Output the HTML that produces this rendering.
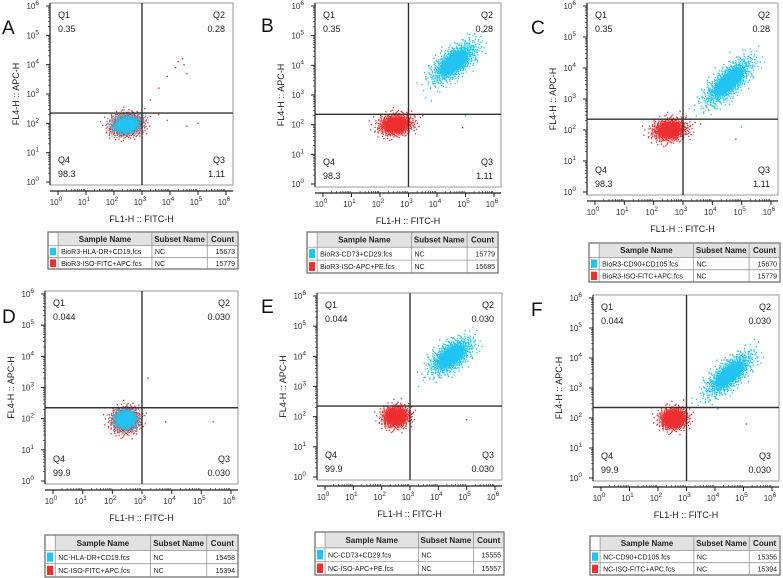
<!DOCTYPE html>
<html><head><meta charset="utf-8">
<style>
html,body{margin:0;padding:0;background:#fff;}
svg{display:block;font-family:"Liberation Sans",Arial,sans-serif;}
</style></head>
<body>
<svg id="fig" width="783" height="578" viewBox="0 0 783 578" xmlns="http://www.w3.org/2000/svg"></svg>
<script>
// ---------- data ----------
const panelLetters = ["A","B","C","D","E","F"];
const q1Values = ["0.35","0.35","0.35","0.044","0.044","0.044"];
const q2Values = ["0.28","0.28","0.28","0.030","0.030","0.030"];
const q3Values = ["1.11","1.11","1.11","0.030","0.030","0.030"];
const q4Values = ["98.3","98.3","98.3","99.9","99.9","99.9"];
const sampleCyan = ["BioR3-HLA-DR+CD19.fcs","BioR3-CD73+CD29.fcs","BioR3-CD90+CD105.fcs","NC-HLA-DR+CD19.fcs","NC-CD73+CD29.fcs","NC-CD90+CD105.fcs"];
const sampleRed = ["BioR3-ISO-FITC+APC.fcs","BioR3-ISO-APC+PE.fcs","BioR3-ISO-FITC+APC.fcs","NC-ISO-FITC+APC.fcs","NC-ISO-APC+PE.fcs","NC-ISO-FITC+APC.fcs"];
const countCyan = ["15673","15779","15670","15458","15555","15356"];
const countRed = ["15779","15685","15779","15394","15557","15394"];
const tickDecades = [0,1,2,3,4,5,6];
// gates in log10 units
const gateX = [3.0,3.0,3.0,3.0,3.0,3.0];
const gateY = [2.35,2.35,2.35,2.35,2.35,2.35];
// clusters (log10 units): center x, center y, sd major, sd minor, angle(deg)
const redCenterX = [2.45,2.55,2.55,2.45,2.5,2.55];
const redCenterY = [1.95,2.0,2.0,1.95,2.0,1.98];
const redSdA = [0.3,0.3,0.3,0.24,0.24,0.24];
const redSdB = [0.19,0.18,0.18,0.2,0.18,0.18];
const redAngle = [8,6,6,5,5,5];
const cyanCenterX = [2.45,4.6,4.55,2.45,4.45,4.5];
const cyanCenterY = [1.95,4.1,3.55,1.97,4.0,3.45];
const cyanSdA = [0.26,0.48,0.52,0.2,0.42,0.5];
const cyanSdB = [0.16,0.21,0.2,0.16,0.21,0.2];
const cyanAngle = [8,38,42,5,35,40];
// sparse outlier events [x,y] in log10
const redOutliers = [
  [[3.3,2.8],[3.6,3.2],[3.9,3.6],[4.3,4.1],[4.5,4.0],[4.6,3.7],[4.2,3.9],[4.45,4.2],[3.1,2.5],[4.6,1.9],[5.0,2.0],[3.6,2.3],[3.9,2.1]],
  [[3.2,2.3],[3.5,2.3],[4.9,1.9],[3.0,2.5]],
  [[3.1,2.4],[3.6,2.2],[4.8,1.7],[2.9,2.6]],
  [[3.2,3.3],[3.8,1.9],[5.4,1.9],[2.7,2.5]],
  [[3.1,2.1],[5.0,1.9],[2.7,2.6]],
  [[2.9,2.6],[5.1,1.8]]
];
const cyanOutliers = [
  [[3.1,2.2],[2.9,2.3]],
  [[3.6,2.9],[3.8,2.8],[5.0,2.3],[5.3,4.6],[4.1,3.1]],
  [[3.4,2.8],[3.7,2.7],[5.0,2.1],[4.6,4.5]],
  [[3.1,2.1]],
  [[3.3,3.0],[3.5,3.3],[5.1,4.6]],
  [[3.2,2.5],[3.6,2.8],[4.1,2.3],[5.2,4.2]]
];

// ---------- layout (pixels) ----------
const boxes = [[50,3,233,185],[315,3,501,187],[587,3,778,195],[45,291,238,484],[317,293,502,480],[593,295,779,481]];
const tables = [[48,232,238,269],[307,232,498,273],[589,243,780,282],[45,535,238,577],[315,532,504,575],[590,536,780,575]];
const letterPos = [[2,34],[261,32],[531,34],[2,323],[261,313],[531,316]];
const CYAN="#22c4f2", RED="#ee2f2f";

const NS="http://www.w3.org/2000/svg";
const svg=document.getElementById('fig');
function mk(tag,attrs,parent){const e=document.createElementNS(NS,tag);for(const k in attrs)e.setAttribute(k,attrs[k]);(parent||svg).appendChild(e);return e;}
function halton(i,b){let f=1,r=0;while(i>0){f/=b;r+=f*(i%b);i=Math.floor(i/b);}return r;}

function drawCluster(g,xs,ys,cx,cy,sa,sb,ang,color,n,offset){
  const a=ang*Math.PI/180, ca=Math.cos(a), sn=Math.sin(a);
  const core=mk('ellipse',{cx:xs(cx),cy:ys(cy),rx:(xs(cx+sa*1.2)-xs(cx)),ry:(ys(cy)-ys(cy+sb*1.2)),fill:color,transform:`rotate(${-ang} ${xs(cx)} ${ys(cy)})`},g);
  
  
  for(let i=1;i<=n;i++){
    const u1=Math.max(1e-4,halton(i+offset,2)), u2=halton(i+offset,3);
    let r=Math.sqrt(-2*Math.log(u1)); if(r>3.3) continue;
    const t=2*Math.PI*u2;
    const dx=r*Math.cos(t)*sa, dy=r*Math.sin(t)*sb;
    const lx=cx+dx*ca-dy*sn, ly=cy+dx*sn+dy*ca;
    const d=mk('rect',{x:xs(lx)-0.65,y:ys(ly)-0.65,width:1.3,height:1.3,fill:color},g);
    
    
  }
}
function drawOutliers(g,xs,ys,pts,color){
  pts.forEach(p=>{
    const d=mk('rect',{x:xs(p[0])-0.7,y:ys(p[1])-0.7,width:1.4,height:1.4,fill:color},g);
    
    
  });
}
function pow10(g,x,y,exp,anchor){
  const t=mk('text',{x:x,y:y,'font-size':8,fill:'#333','text-anchor':anchor||'middle'},g);
  t.appendChild(document.createTextNode('10'));
  const s=mk('tspan',{dy:-4,'font-size':6.5},t); s.textContent=exp;
  return t;
}

for(let p=0;p<6;p++){
  const [x0,y0,x1,y1]=boxes[p];
  const g=mk('g',{});
  
  
  const xs=l=>x0+8+l*(x1-x0-15)/6;
  const ys=l=>y1-3-l*(y1-y0-6)/6;

  const L=mk('text',{x:letterPos[p][0],y:letterPos[p][1],'font-size':19,fill:'#111'},g);
  L.textContent=panelLetters[p];
  
  

  const box=mk('rect',{x:x0,y:y0,width:x1-x0,height:y1-y0,fill:'#fff',stroke:'#9a9a9a','stroke-width':1},g);
  
  

  const dg=mk('g',{},g);
  
  
  drawCluster(dg,xs,ys,redCenterX[p],redCenterY[p],redSdA[p],redSdB[p],redAngle[p],RED,800,p*37+5);
  drawOutliers(dg,xs,ys,redOutliers[p],RED);
  drawCluster(dg,xs,ys,cyanCenterX[p],cyanCenterY[p],cyanSdA[p],cyanSdB[p],cyanAngle[p],CYAN,(p%3===0)?600:1000,p*53+11);
  drawOutliers(dg,xs,ys,cyanOutliers[p],CYAN);

  const vx=xs(gateX[p]), hy=ys(gateY[p]);
  const vl=mk('line',{x1:vx,y1:y0,x2:vx,y2:y1,stroke:'#333','stroke-width':1.4},g);
  
  
  const hl=mk('line',{x1:x0,y1:hy,x2:x1,y2:hy,stroke:'#333','stroke-width':1.4},g);
  
  

  const ql=[["Q1",q1Values[p],x0+8,y0+15,'start'],["Q2",q2Values[p],x1-8,y0+15,'end'],["Q4",q4Values[p],x0+8,y1-22,'start'],["Q3",q3Values[p],x1-8,y1-22,'end']];
  ql.forEach(q=>{
    const a=mk('text',{x:q[2],y:q[3],'font-size':9,fill:'#222','text-anchor':q[4]},g);a.textContent=q[0];
    
    
    const b=mk('text',{x:q[2],y:q[3]+14,'font-size':9,fill:'#222','text-anchor':q[4]},g);b.textContent=q[1];
    
    
  });

  tickDecades.forEach(d=>{
    mk('line',{x1:x0-4,y1:ys(d),x2:x0,y2:ys(d),stroke:'#222','stroke-width':1},g);
    if(d<6){for(let m=2;m<10;m++){const yy=ys(d+Math.log10(m));mk('line',{x1:x0-2,y1:yy,x2:x0,y2:yy,stroke:'#333','stroke-width':0.7},g);}}
    const t=pow10(g,x0-11,ys(d)+3,String(d),'end');
    
    
  });
  mk('line',{x1:x0,y1:y0,x2:x0,y2:y1,stroke:'#222','stroke-width':1.2},g);
  const ax=y1+6;
  mk('line',{x1:x0,y1:ax,x2:x1,y2:ax,stroke:'#222','stroke-width':1.2},g);
  tickDecades.forEach(d=>{
    mk('line',{x1:xs(d),y1:ax,x2:xs(d),y2:ax+4,stroke:'#222','stroke-width':1},g);
    if(d<6){for(let m=2;m<10;m++){const xx=xs(d+Math.log10(m));mk('line',{x1:xx,y1:ax-2,x2:xx,y2:ax,stroke:'#333','stroke-width':0.7},g);}}
    const t=pow10(g,xs(d)-2,y1+20,String(d),'middle');
    
    
  });
  const xt=mk('text',{x:(x0+x1)/2,y:y1+37,'font-size':9,fill:'#222','text-anchor':'middle'},g);
  xt.textContent='FL1-H :: FITC-H';
  
  
  const ycx=x0-31, ycy=(y0+y1)/2;
  const yt=mk('text',{x:ycx,y:ycy,'font-size':9,fill:'#222','text-anchor':'middle',transform:`rotate(-90 ${ycx} ${ycy})`},g);
  yt.textContent='FL4-H :: APC-H';
  
  

  const [tx0,ty0,tx1,ty1]=tables[p];
  const tw=tx1-tx0, th=ty1-ty0;
  const tg=mk('g',{},g);
  
  
  const c1=tx0+tw*0.053, c2=tx0+tw*0.547, c3=tx0+tw*0.838;
  const hh=th*0.37, rh=(th-hh)/2;
  mk('rect',{x:tx0,y:ty0,width:tw,height:th,fill:'#fff',stroke:'#666','stroke-width':1.2},tg);
  mk('rect',{x:c1,y:ty0+0.5,width:tx1-c1-0.5,height:hh,fill:'#e2e2e2'},tg);
  [ty0+hh,ty0+hh+rh].forEach(yy=>mk('line',{x1:tx0,y1:yy,x2:tx1,y2:yy,stroke:'#888','stroke-width':0.7},tg));
  [c1,c2,c3].forEach(xx=>mk('line',{x1:xx,y1:ty0,x2:xx,y2:ty1,stroke:'#888','stroke-width':0.7},tg));
  const hy0=ty0+hh/2+3;
  [["Sample Name",(c1+c2)/2],["Subset Name",(c2+c3)/2],["Count",(c3+tx1)/2]].forEach(h=>{
    const t=mk('text',{x:h[1],y:hy0,'font-size':8,'font-weight':'bold',fill:'#222','text-anchor':'middle'},tg);
    t.textContent=h[0];
    
    
  });
  const rows=[[CYAN,sampleCyan[p],countCyan[p]],[RED,sampleRed[p],countRed[p]]];
  rows.forEach((r,i)=>{
    const ry=ty0+hh+i*rh;
    const sw=mk('rect',{x:tx0+2,y:ry+2,width:c1-tx0-4,height:rh-4,fill:r[0]},tg);
    
    
    const a=mk('text',{x:c1+3,y:ry+rh/2+2.7,'font-size':7,fill:'#222'},tg);a.textContent=r[1];
    
    
    const b=mk('text',{x:c2+3,y:ry+rh/2+2.7,'font-size':7,fill:'#222'},tg);b.textContent='NC';
    
    
    const c=mk('text',{x:tx1-3,y:ry+rh/2+2.7,'font-size':7,fill:'#222','text-anchor':'end'},tg);c.textContent=r[2];
    
    
  });
}
</script>
</body></html>
